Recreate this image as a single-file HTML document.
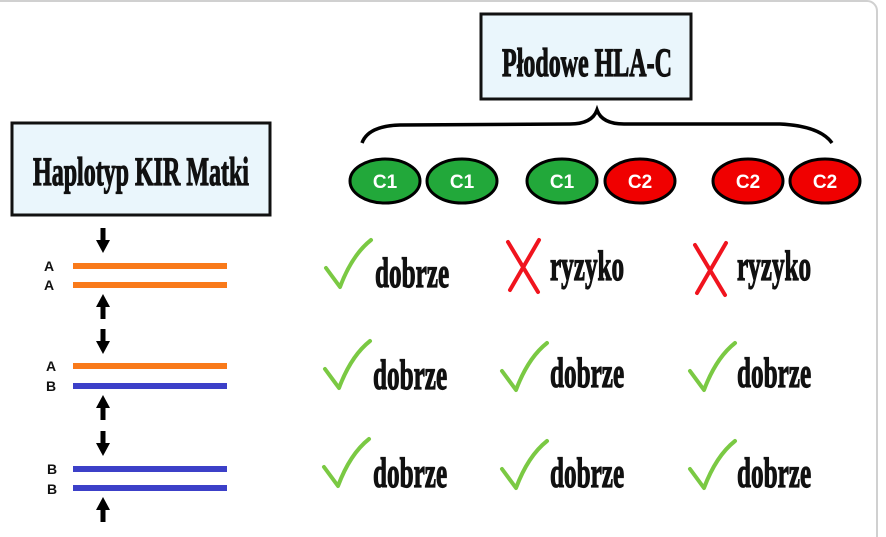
<!DOCTYPE html>
<html><head><meta charset="utf-8"><style>
html,body{margin:0;padding:0;background:#fff;}
svg{display:block;}
.t{font-family:"Liberation Serif",serif;font-weight:bold;fill:#111;stroke:#111;stroke-width:1.2;}
.l{font-family:"Liberation Sans",sans-serif;font-weight:bold;fill:#111;font-size:14px;}
.e{font-family:"Liberation Sans",sans-serif;font-weight:bold;fill:#fff;font-size:19px;}
</style></head><body>
<svg width="886" height="537" viewBox="0 0 886 537" xmlns="http://www.w3.org/2000/svg">
<rect x="-10" y="1" width="887" height="560" rx="10" fill="#fff" stroke="#d0d0d0" stroke-width="2"/>
<defs>
<g id="down"><rect x="-2.5" y="0" width="5" height="14" fill="#000"/><polygon points="-7,12 7,12 0,25" fill="#000"/></g>
<g id="up"><rect x="-2.5" y="11" width="5" height="14" fill="#000"/><polygon points="-7,13 7,13 0,0" fill="#000"/></g>
<path id="chk" d="M0,28 L14,47 Q26,15 45,0" fill="none" stroke="#7ac943" stroke-width="4" stroke-linecap="round" stroke-linejoin="round"/>
<g id="x"><path d="M2,2 L32,52 M33,0 L4,50" stroke="#f0141e" stroke-width="4" stroke-linecap="round"/></g>
</defs>
<rect x="12" y="123" width="258" height="92" fill="#eaf6fc" stroke="#111" stroke-width="3"/>
<text class="t" x="141" y="185" font-size="40" text-anchor="middle" transform="translate(141 0) scale(0.6 1) translate(-141 0)">Haplotyp KIR Matki</text>
<rect x="481" y="14" width="210" height="85" fill="#eaf6fc" stroke="#111" stroke-width="3"/>
<text class="t" x="587" y="76" font-size="40" text-anchor="middle" transform="translate(587 0) scale(0.6 1) translate(-587 0)">Płodowe HLA-C</text>
<path d="M362,143 Q368,126 400,125 L570,124 Q592,124 597,110 Q602,124 624,124 L780,124 Q820,126 832,143" fill="none" stroke="#000" stroke-width="3.5"/>
<g stroke="#000" stroke-width="3">
<ellipse cx="385" cy="181" rx="35" ry="22" fill="#22a83a"/>
<ellipse cx="462" cy="181" rx="35" ry="22" fill="#22a83a"/>
<ellipse cx="562" cy="181" rx="35" ry="22" fill="#22a83a"/>
<ellipse cx="640" cy="181" rx="35" ry="22" fill="#f00000"/>
<ellipse cx="748" cy="181" rx="35" ry="22" fill="#f00000"/>
<ellipse cx="825" cy="181" rx="35" ry="22" fill="#f00000"/>
</g>
<text class="e" x="385" y="188" text-anchor="middle">C1</text>
<text class="e" x="462" y="188" text-anchor="middle">C1</text>
<text class="e" x="562" y="188" text-anchor="middle">C1</text>
<text class="e" x="640" y="188" text-anchor="middle">C2</text>
<text class="e" x="748" y="188" text-anchor="middle">C2</text>
<text class="e" x="825" y="188" text-anchor="middle">C2</text>
<g stroke-width="6">
<line x1="73" y1="266" x2="227" y2="266" stroke="#f97a1a"/>
<line x1="73" y1="285" x2="227" y2="285" stroke="#f97a1a"/>
<line x1="73" y1="366" x2="227" y2="366" stroke="#f97a1a"/>
<line x1="73" y1="386" x2="227" y2="386" stroke="#3c40c8"/>
<line x1="73" y1="469" x2="227" y2="469" stroke="#3c40c8"/>
<line x1="73" y1="488" x2="227" y2="488" stroke="#3c40c8"/>
</g>
<text class="l" x="44" y="271">A</text><text class="l" x="44" y="290">A</text>
<text class="l" x="46" y="371">A</text><text class="l" x="46" y="391">B</text>
<text class="l" x="47" y="474">B</text><text class="l" x="47" y="494">B</text>
<use href="#down" x="103" y="228"/>
<use href="#up" x="103" y="294"/>
<use href="#down" x="103" y="329"/>
<use href="#up" x="103" y="395"/>
<use href="#down" x="103" y="431"/>
<use href="#up" x="103" y="497"/>
<use href="#chk" x="326" y="240"/>
<use href="#chk" x="325" y="341"/>
<use href="#chk" x="324" y="439"/>
<use href="#chk" x="502" y="343"/>
<use href="#chk" x="502" y="441"/>
<use href="#chk" x="690" y="343"/>
<use href="#chk" x="690" y="441"/>
<use href="#x" x="506" y="240"/>
<use href="#x" x="693" y="243"/>
<g font-size="42">
<text class="t" x="375" y="287" transform="translate(375 0) scale(0.6 1) translate(-375 0)">dobrze</text>
<text class="t" x="373" y="389" transform="translate(373 0) scale(0.6 1) translate(-373 0)">dobrze</text>
<text class="t" x="373" y="487" transform="translate(373 0) scale(0.6 1) translate(-373 0)">dobrze</text>
<text class="t" x="550" y="387" transform="translate(550 0) scale(0.6 1) translate(-550 0)">dobrze</text>
<text class="t" x="550" y="487" transform="translate(550 0) scale(0.6 1) translate(-550 0)">dobrze</text>
<text class="t" x="737" y="387" transform="translate(737 0) scale(0.6 1) translate(-737 0)">dobrze</text>
<text class="t" x="737" y="487" transform="translate(737 0) scale(0.6 1) translate(-737 0)">dobrze</text>
<text class="t" x="550" y="280" transform="translate(550 0) scale(0.6 1) translate(-550 0)">ryzyko</text>
<text class="t" x="737" y="280" transform="translate(737 0) scale(0.6 1) translate(-737 0)">ryzyko</text>
</g>
</svg>
</body></html>
